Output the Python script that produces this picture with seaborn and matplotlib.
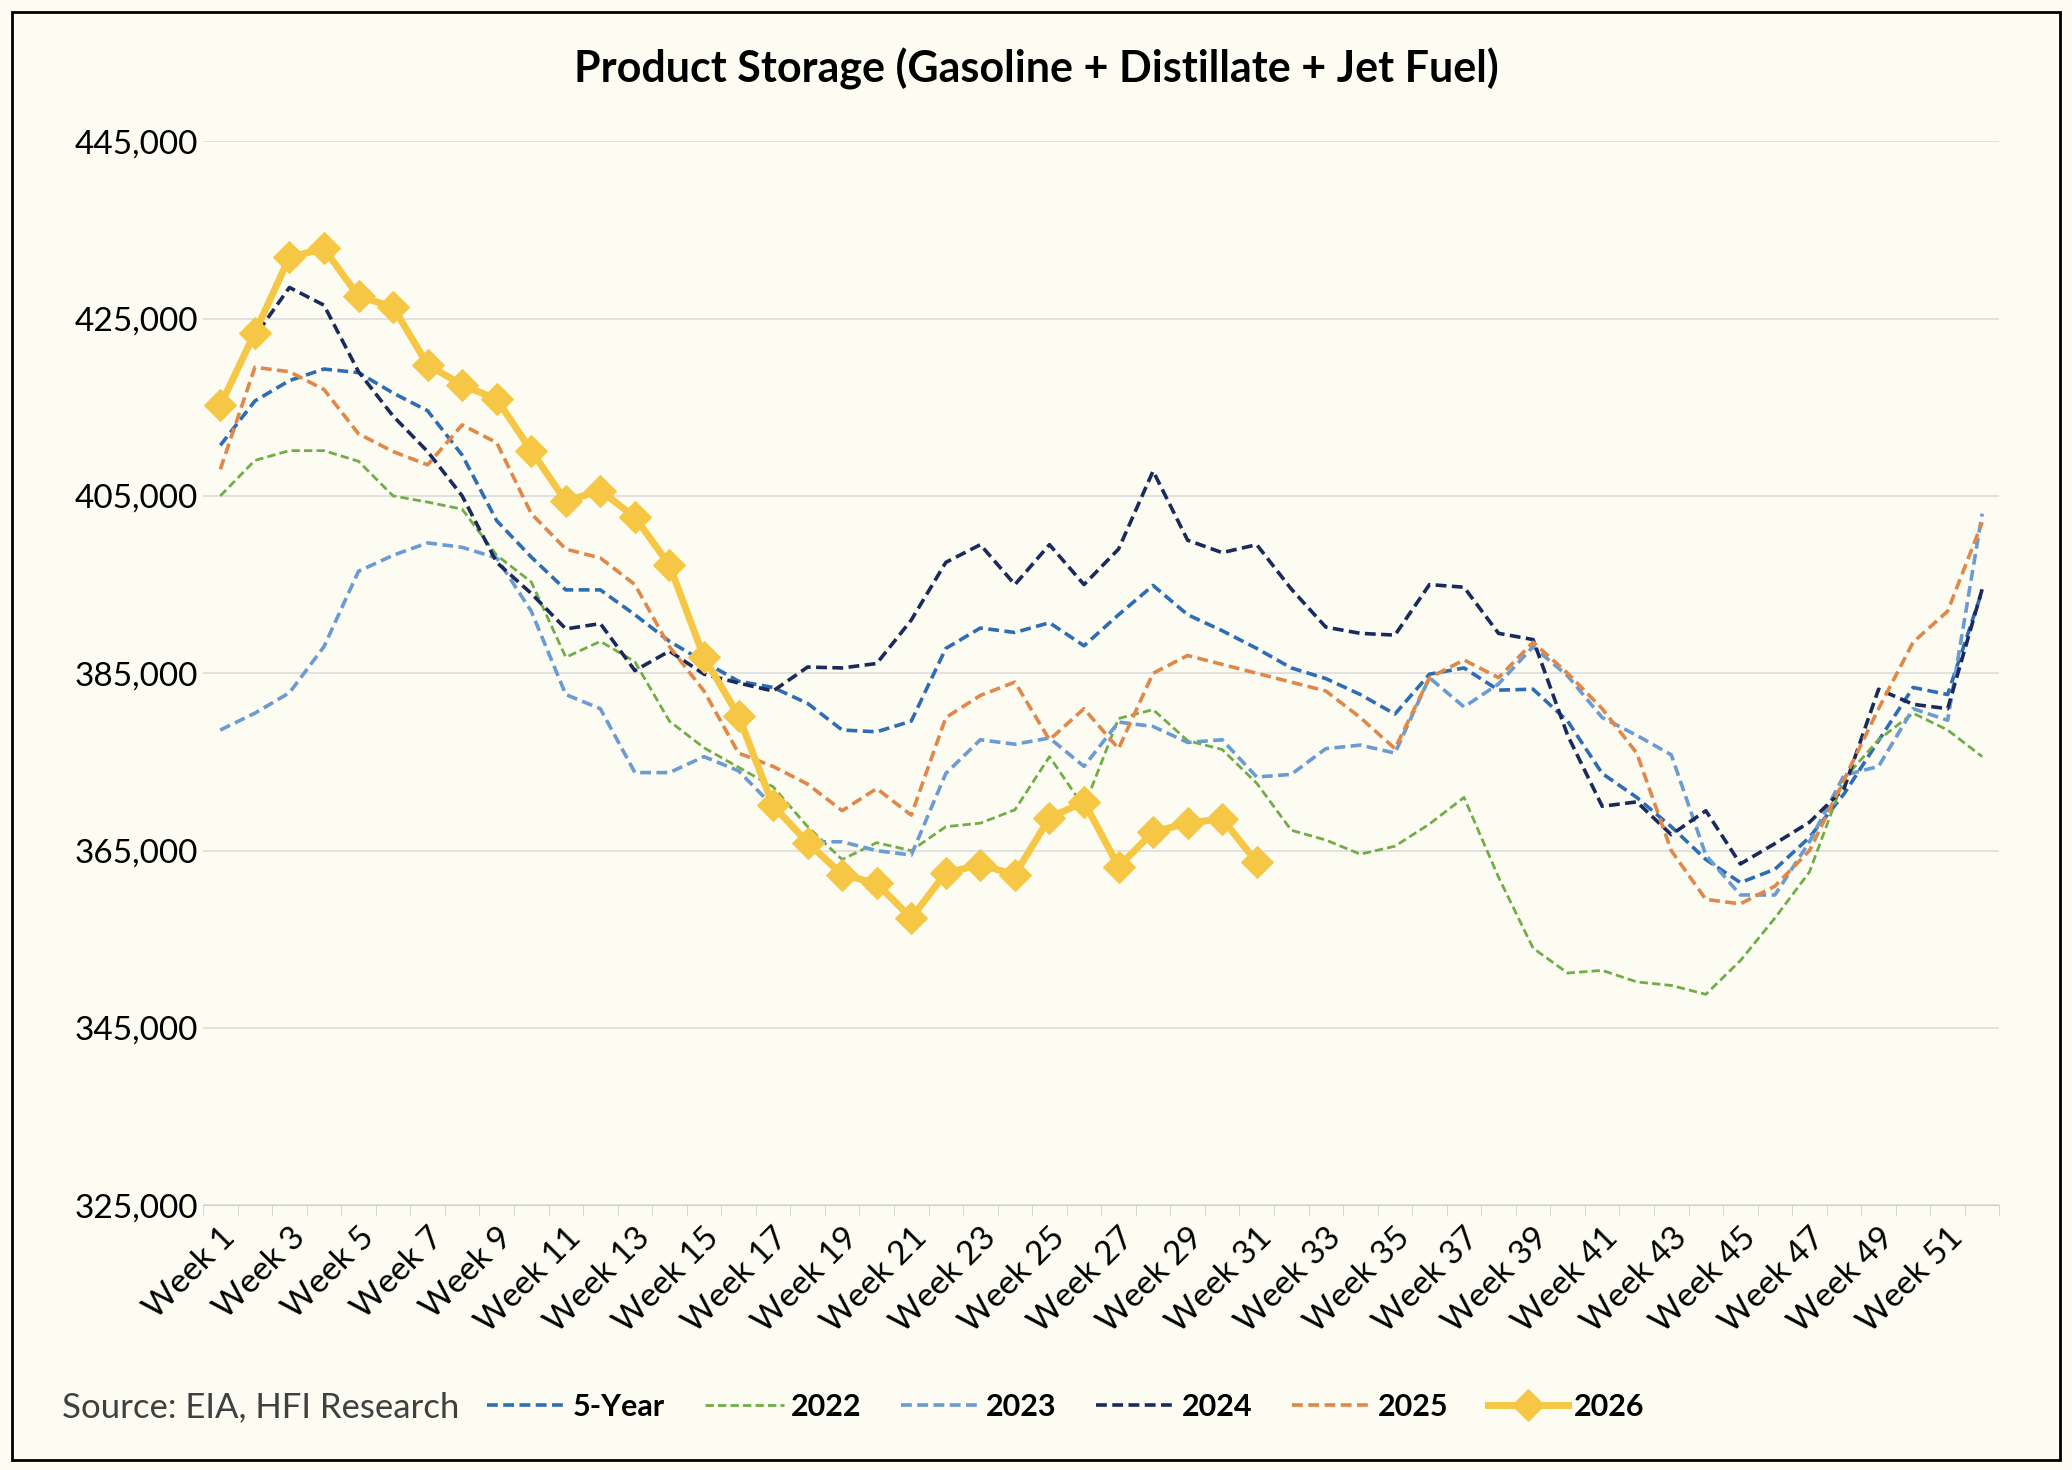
import matplotlib
matplotlib.use("Agg")
import matplotlib.pyplot as plt
import numpy as np
import pandas as pd
import seaborn as sns

weeks = [f"Week {i}" for i in range(1, 53)]

five_year = [410.7, 415.7, 418.0, 419.3, 418.9, 416.6, 414.6, 409.6, 402.2, 398.1, 394.4, 394.4, 391.6,
             388.6, 386.3, 384.1, 383.4, 381.6, 378.6, 378.4, 379.6, 387.8, 390.1, 389.6, 390.7, 388.1,
             391.6, 394.9, 391.6, 389.8, 387.8, 385.6, 384.4, 382.6, 380.4, 384.9, 385.6, 383.1, 383.2,
             379.6, 373.7, 371.0, 367.7, 364.0, 361.4, 362.9, 366.5, 371.4, 377.4, 383.4, 382.6, 394.3]
y2022 = [405, 409, 410.1, 410.1, 408.9, 405, 404.3, 403.5, 398.3, 395.3, 386.8, 388.6, 386.3, 379.6,
         376.6, 374.4, 372.2, 367.7, 364, 365.9, 365, 367.7, 368.1, 369.6, 375.6, 369.9, 379.9, 380.9,
         377.4, 376.4, 372.6, 367.3, 366.2, 364.6, 365.5, 368, 371, 362, 354, 351.2, 351.5, 350.2,
         349.8, 348.8, 352.6, 357.4, 362.6, 373.1, 377.5, 380.5, 378.6, 375.6]
y2023 = [378.6, 380.5, 382.8, 388, 396.5, 398.3, 399.7, 399.2, 398, 392, 382.6, 381, 373.8, 373.8,
         375.6, 374, 370, 366, 366, 365, 364.5, 373.7, 377.5, 377, 377.7, 374.5, 379.5, 379, 377.2,
         377.5, 373.3, 373.6, 376.5, 376.9, 376, 384.5, 381.2, 383.8, 388, 384.7, 380, 378, 375.8,
         364.5, 360, 360, 366, 373.5, 374.5, 381, 379.7, 403]
y2024 = [415.5, 423, 428.5, 426.5, 419, 414, 410, 405, 397.5, 394, 390, 390.6, 385.3, 387.5, 384.9,
         383.9, 383, 385.7, 385.6, 386.1, 391, 397.5, 399.5, 395, 399.5, 395, 399, 407.8, 400, 398.6,
         399.5, 394.5, 390.2, 389.5, 389.3, 395, 394.7, 389.5, 388.8, 378, 370, 370.5, 366.8, 369.5,
         363.5, 365.8, 368.2, 372, 383.2, 381.5, 381, 394.5]
y2025 = [408, 419.5, 419, 417, 412, 410, 408.5, 413, 411, 403, 399, 398, 395, 388, 383, 376, 374.5,
         372.5, 369.5, 372, 369, 380, 382.5, 384, 377.5, 381, 376.5, 385, 387, 386, 385, 384, 383, 380,
         376.5, 384.5, 386.5, 384.5, 388.5, 385, 381, 376, 365, 359.5, 359, 361, 365, 373, 381, 388.5,
         392, 402]
y2026 = [415.2, 423.4, 431.9, 432.9, 427.5, 426.3, 419.8, 417.5, 415.9, 410.1, 404.4, 405.6, 402.6,
         397.2, 386.8, 380.2, 370.1, 365.9, 362.3, 361.3, 357.4, 362.5, 363.4, 362.3, 368.7, 370.5,
         363.2, 367.1, 368.1, 368.6, 363.7]

series = [
    ("5-Year", five_year, "#2E6DB4", (0, (3, 1.5)), 2.6, None),
    ("2022", y2022, "#70AD47", (0, (3, 1.5)), 2.0, None),
    ("2023", y2023, "#6A9BD3", (0, (3, 1.5)), 2.6, None),
    ("2024", y2024, "#1B2A5C", (0, (3, 1.5)), 2.6, None),
    ("2025", y2025, "#E0874A", (0, (3, 1.5)), 2.6, None),
    ("2026", y2026, "#F6C744", "-", 5.0, "D"),
]

bg = "#FDFCF2"
plt.rcParams["font.family"] = ["Lato", "DejaVu Sans"]
fig = plt.figure(figsize=(20.72, 14.7), dpi=100, facecolor=bg)
ax = fig.add_axes([0.098, 0.18, 0.867, 0.724], facecolor=bg)

for name, vals, color, ls, lw, marker in series:
    df = pd.DataFrame({"x": np.arange(len(vals)), "y": np.array(vals) * 1000})
    sns.lineplot(data=df, x="x", y="y", ax=ax, color=color, linestyle=ls, linewidth=lw,
                 marker=marker, markersize=16 if marker else 0, markeredgecolor=color,
                 label=name, legend=False)

ax.set_ylim(325000, 445000)
ax.set_yticks(range(325000, 445001, 20000))
ax.yaxis.set_major_formatter(matplotlib.ticker.FuncFormatter(lambda v, p: f"{int(v):,}"))
ax.set_xlim(-0.5, 51.5)
ax.set_xticks(range(0, 52, 2))
ax.set_xticklabels(weeks[::2], rotation=45, ha="right", rotation_mode="anchor")
ax.set_xticks(np.arange(-0.5, 52, 1), minor=True)
ax.tick_params(axis="x", which="minor", length=8, color="#D0D0D0")
ax.tick_params(axis="x", which="major", length=0, labelsize=24, pad=12)
ax.tick_params(axis="y", length=0, labelsize=24)
ax.grid(axis="y", color="#DCDCDC", linewidth=1.2)
ax.set_axisbelow(True)
for s in ["top", "right", "left"]:
    ax.spines[s].set_visible(False)
ax.spines["bottom"].set_color("#D0D0D0")
ax.set_xlabel("")
ax.set_ylabel("")

fig.text(0.5, 0.953, "Product Storage (Gasoline + Distillate + Jet Fuel)", ha="center",
         va="center", fontsize=31, fontweight="bold")
fig.text(0.03, 0.043, "Source: EIA, HFI Research", ha="left", va="center", fontsize=25,
         color="#404040")
handles, labels = ax.get_legend_handles_labels()
leg = fig.legend(handles, labels, loc="center left", bbox_to_anchor=(0.222, 0.043), ncol=6,
                 frameon=False, fontsize=22, handlelength=2.6, columnspacing=1.3,
                 handletextpad=0.2)
for t in leg.get_texts():
    t.set_fontweight("bold")

fig.add_artist(plt.Rectangle((0.006, 0.007), 0.988, 0.985, transform=fig.transFigure,
                             fill=False, edgecolor="black", linewidth=2))
fig.savefig("out.png", dpi=100, facecolor=bg)
